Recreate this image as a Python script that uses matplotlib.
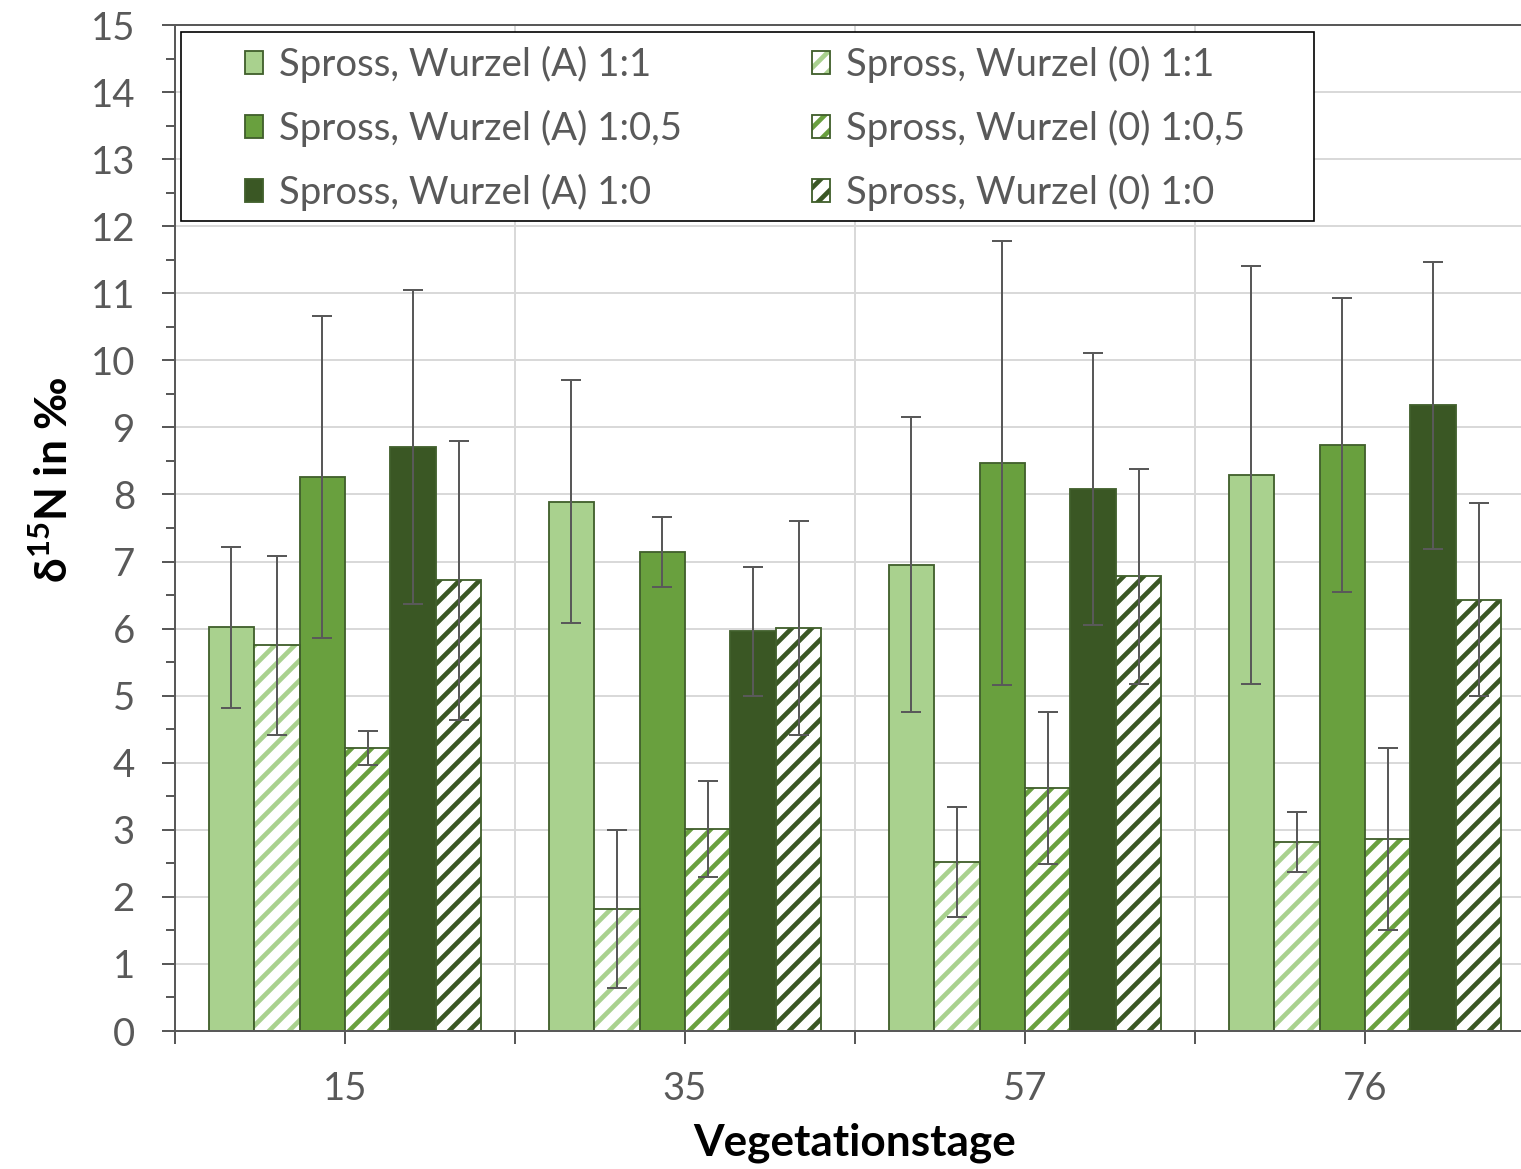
import numpy as np
import matplotlib
matplotlib.use("Agg")
import matplotlib.pyplot as plt
from matplotlib.patches import Rectangle, Patch
from matplotlib.ticker import MultipleLocator

plt.rcParams['font.family'] = ['Lato', 'DejaVu Sans']
plt.rcParams['mathtext.fontset'] = 'custom'
plt.rcParams['mathtext.rm'] = 'Lato:bold'
plt.rcParams['hatch.linewidth'] = 2.8

# Vegetationstage
tage = ['15', '35', '57', '76']

labels = ['Spross, Wurzel (A) 1:1', 'Spross, Wurzel (0) 1:1',
          'Spross, Wurzel (A) 1:0,5', 'Spross, Wurzel (0) 1:0,5',
          'Spross, Wurzel (A) 1:0', 'Spross, Wurzel (0) 1:0']

# Mittelwerte delta15N (Promille)
a_11 = [6.02, 7.89, 6.95, 8.29]
o_11 = [5.75, 1.82, 2.52, 2.82]
a_105 = [8.26, 7.14, 8.47, 8.74]
o_105 = [4.22, 3.01, 3.62, 2.86]
a_10 = [8.71, 5.96, 8.08, 9.33]
o_10 = [6.72, 6.01, 6.78, 6.43]

# Standardabweichungen
a_11_sd = [1.20, 1.81, 2.20, 3.11]
o_11_sd = [1.33, 1.18, 0.82, 0.45]
a_105_sd = [2.40, 0.52, 3.31, 2.19]
o_105_sd = [0.25, 0.72, 1.13, 1.36]
a_10_sd = [2.34, 0.96, 2.03, 2.14]
o_10_sd = [2.08, 1.59, 1.60, 1.44]

werte = [a_11, o_11, a_105, o_105, a_10, o_10]
fehler = [a_11_sd, o_11_sd, a_105_sd, o_105_sd, a_10_sd, o_10_sd]
farben = ['#a9d18e', '#a9d18e', '#69a03e', '#69a03e', '#3a5724', '#3a5724']
schraffiert = [False, True, False, True, False, True]

rand = '#41602c'
grau = '#595959'

fig = plt.figure(figsize=(1521 / 120, 1169 / 120), dpi=120)
ax = fig.add_axes([175 / 1521, 138 / 1169, 1360 / 1521, 1006 / 1169])

x = np.arange(len(tage))
breite = 0.1338
for i in range(6):
    pos = x + (i - 2.5) * breite
    if schraffiert[i]:
        # Schraffur in Serienfarbe, Rahmen separat
        ax.bar(pos, werte[i], breite, color='white', edgecolor=farben[i],
               hatch='//', linewidth=0, zorder=2)
        ax.bar(pos, werte[i], breite, color='none', edgecolor=rand,
               linewidth=1.1, zorder=2.1)
    else:
        ax.bar(pos, werte[i], breite, color=farben[i], edgecolor=rand,
               linewidth=1.1, zorder=2)
    ax.errorbar(pos, werte[i], yerr=fehler[i], fmt='none', ecolor=grau,
                elinewidth=1.2, capsize=6, capthick=1.2, zorder=3)

ax.set_xlim(-0.5, 3.5)
ax.set_ylim(0, 15)
ax.set_axisbelow(True)

ax.set_xticks(x)
ax.set_xticklabels(tage)
ax.set_xticks(np.arange(-0.5, 4, 1), minor=True)
ax.yaxis.set_major_locator(MultipleLocator(1))
ax.yaxis.set_minor_locator(MultipleLocator(0.5))

ax.grid(axis='y', which='major', color='#d9d9d9', linewidth=1.2)
ax.grid(axis='x', which='minor', color='#d9d9d9', linewidth=1.2)

ax.tick_params(axis='both', which='both', direction='out', color=grau,
               width=1.2, labelcolor=grau, labelsize=23)
ax.tick_params(axis='x', which='both', length=7.5, pad=16.5)
ax.tick_params(axis='y', which='major', length=8, pad=16)
ax.tick_params(axis='y', which='minor', length=5.5)

for s in ['left', 'bottom', 'top']:
    ax.spines[s].set_color(grau)
    ax.spines[s].set_linewidth(1.2)
ax.spines['right'].set_visible(False)

fig.text(855 / 1521, 1 - 1143 / 1169, 'Vegetationstage', ha='center',
         va='center', fontsize=26.5, fontweight='bold', color='black')
fig.text(53 / 1521, 1 - 480 / 1169, 'δ$^{15}$N in ‰', ha='center',
         va='center', rotation=90, fontsize=26.5, fontweight='bold',
         color='black')

# Legendenrahmen
ax.add_patch(Rectangle((181 / 1521, 1 - 221 / 1169), 1133 / 1521, 189 / 1169,
                       transform=fig.transFigure, facecolor='white',
                       edgecolor='black', linewidth=1.0, zorder=4.5,
                       clip_on=False))

handles = []
for i in range(6):
    if schraffiert[i]:
        handles.append((Patch(facecolor='white', edgecolor=farben[i],
                              hatch='//', linewidth=0),
                        Patch(facecolor='none', edgecolor=rand,
                              linewidth=1.1)))
    else:
        handles.append(Patch(facecolor=farben[i], edgecolor=rand,
                             linewidth=1.1))
order = [0, 2, 4, 1, 3, 5]
leg = ax.legend([handles[k] for k in order], [labels[k] for k in order],
                ncols=2, frameon=False, loc='upper left',
                bbox_to_anchor=(245 / 1521, 1 - 46 / 1169),
                bbox_transform=fig.transFigure, borderpad=0, borderaxespad=0,
                fontsize=23, handlelength=0.46, handleheight=0.52,
                handletextpad=0.42, labelspacing=0.7, columnspacing=3.4)
for t in leg.get_texts():
    t.set_color(grau)
leg.set_zorder(5)

fig.savefig('out.png', dpi=120)
